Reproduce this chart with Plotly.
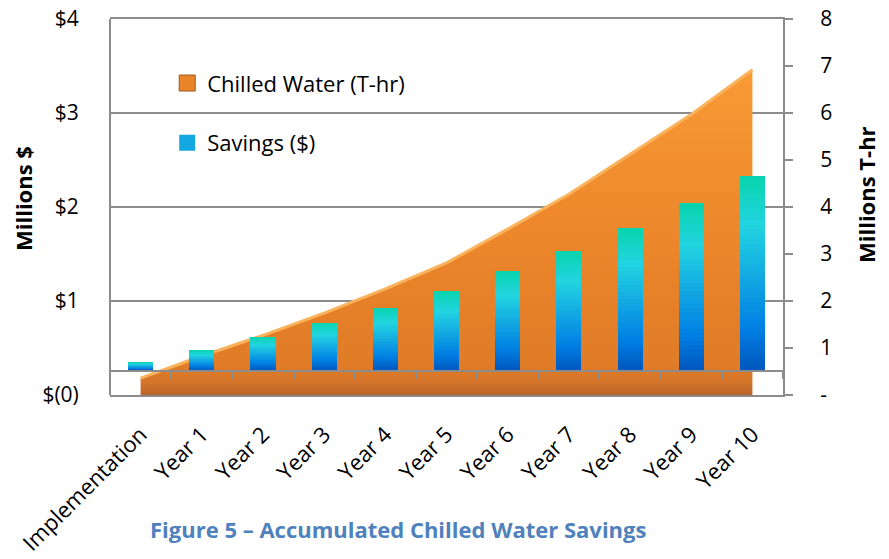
import plotly.graph_objects as go

# ---------------- data ----------------
categories = ["Implementation", "Year 1", "Year 2", "Year 3", "Year 4", "Year 5",
              "Year 6", "Year 7", "Year 8", "Year 9", "Year 10"]
savings_musd = [0.09, 0.22, 0.36, 0.51, 0.67, 0.85, 1.06, 1.27, 1.52, 1.78, 2.07]
chilled_water_mthr = [0.36, 0.83, 1.27, 1.74, 2.26, 2.81, 3.53, 4.27, 5.12, 5.97, 6.92]

left_tick_vals = [-0.26, 0.74, 1.74, 2.74, 3.74]
left_tick_text = ["$(0)", "$1", "$2", "$3", "$4"]
right_tick_vals = [0, 1, 2, 3, 4, 5, 6, 7, 8]
right_tick_text = ["-", "1", "2", "3", "4", "5", "6", "7", "8"]

# ---------------- style ----------------
FONT = "Open Sans"
GRID = "#8C8C8C"
OFF = 8                      # default page body margin
W, H = 889 - OFF, 559 - OFF
# plot area in window pixels: x 110..783, y 19..395
ML, MT = 110 - OFF, 19 - OFF
MR, MB = W - (783 - OFF), H - (395 - OFF)

bar_stops = [(0.0, (0, 86, 190)), (0.22, (0, 128, 228)), (0.5, (20, 172, 226)),
             (0.75, (34, 212, 224)), (1.0, (8, 212, 172))]


def grad(f):
    for (f0, c0), (f1, c1) in zip(bar_stops[:-1], bar_stops[1:]):
        if f0 <= f <= f1:
            t = (f - f0) / (f1 - f0)
            r, g, b = (round(a + (b_ - a) * t) for a, b_ in zip(c0, c1))
            return f"rgb({r},{g},{b})"
    return "rgb(%d,%d,%d)" % bar_stops[-1][1]


fig = go.Figure()

fig.add_trace(go.Scatter(
    x=categories, y=chilled_water_mthr, name="Chilled Water (T-hr)",
    mode="lines", fill="tozeroy",
    line=dict(color="#FAB25C", width=3),
    fillgradient=dict(type="vertical", start=0, stop=7,
                      colorscale=[[0, "#B8642A"], [0.035, "#D2742A"], [0.08, "#E07B27"],
                                  [0.5, "#EC872B"], [1, "#F99B36"]]),
    xaxis="x", yaxis="y", showlegend=False,
))
# legend proxy for the area series
fig.add_trace(go.Scatter(
    x=[None], y=[None], mode="markers", name="Chilled Water (T-hr)",
    marker=dict(symbol="square", size=16, color="#E8842A",
                line=dict(color="#9C5A22", width=1)),
    xaxis="x", yaxis="y", legendgroup="cw", legendrank=1,
))

N = 40
for k in range(N, 0, -1):
    f = k / N
    fig.add_trace(go.Bar(
        x=categories, y=[v * f for v in savings_musd],
        name="Savings ($)", width=0.41,
        marker=dict(color=grad(f - 0.5 / N), line=dict(width=0)),
        xaxis="x2", yaxis="y2", showlegend=False,
        hoverinfo="skip" if k < N else None,
    ))
# legend proxy for the bar series
fig.add_trace(go.Scatter(
    x=[None], y=[None], mode="markers", name="Savings ($)",
    marker=dict(symbol="square", size=16, color="#14A8E2"),
    xaxis="x2", yaxis="y2", legendgroup="sv", legendrank=2,
))

floor_pos = -left_tick_vals[0] / (left_tick_vals[-1] - left_tick_vals[0])

fig.update_layout(
    width=W, height=H,
    margin=dict(l=ML, r=MR, t=MT, b=MB, autoexpand=False),
    paper_bgcolor="white", plot_bgcolor="white",
    font=dict(family=FONT, size=22, color="black"),
    barmode="overlay", bargap=0,
    showlegend=True,
    legend=dict(x=0.085, y=0.885, xanchor="left", yanchor="top",
                bgcolor="rgba(0,0,0,0)", font=dict(size=22),
                tracegroupgap=28, traceorder="grouped"),
    xaxis=dict(type="category", range=[-0.5, len(categories) - 0.5],
               tickangle=-45, showline=True, mirror=True, linecolor=GRID, linewidth=2,
               ticks="", showgrid=False, ticklabelstandoff=16, automargin=False,
               tickfont=dict(size=22)),
    xaxis2=dict(type="category", overlaying="x", anchor="free", position=floor_pos,
                range=[-0.5, len(categories) - 0.5], showline=True, linecolor=GRID,
                linewidth=2, ticks="outside", tickson="boundaries", ticklen=7,
                tickcolor=GRID, tickwidth=2, showticklabels=False, showgrid=False,
                automargin=False),
    yaxis=dict(side="right", range=[right_tick_vals[0], right_tick_vals[-1]],
               tickvals=right_tick_vals, ticktext=right_tick_text,
               ticks="outside", ticklen=8, tickcolor=GRID, tickwidth=2,
               showline=True, linecolor=GRID, linewidth=2, showgrid=False,
               zeroline=False, ticklabelstandoff=23, tickfont=dict(size=21),
               ticklabeloverflow="allow", automargin=False),
    yaxis2=dict(side="left", overlaying="y", anchor="free", position=0,
                range=[left_tick_vals[0], left_tick_vals[-1]],
                tickvals=left_tick_vals, ticktext=left_tick_text,
                showgrid=True, gridcolor=GRID, gridwidth=2,
                showline=True, linecolor=GRID, linewidth=2, ticks="",
                zeroline=False, ticklabelstandoff=26, tickfont=dict(size=21),
                ticklabeloverflow="allow", automargin=False),
)

pw, ph = W - ML - MR, H - MT - MB


def px_x(x):
    return (x - OFF - ML) / pw


def px_y(y):
    return (H - MB - (y - OFF)) / ph


fig.add_annotation(text="<b>Millions $</b>", textangle=-90, showarrow=False,
                   xref="paper", yref="paper", x=px_x(23), y=px_y(198),
                   xanchor="center", yanchor="middle", font=dict(size=22))
fig.add_annotation(text="<b>Millions T-hr</b>", textangle=-90, showarrow=False,
                   xref="paper", yref="paper", x=px_x(866), y=px_y(195),
                   xanchor="center", yanchor="middle", font=dict(size=22))
fig.add_annotation(text="<b>Figure 5 – Accumulated Chilled Water Savings</b>",
                   showarrow=False, xref="paper", yref="paper",
                   x=px_x(398), y=px_y(529), xanchor="center", yanchor="middle",
                   font=dict(size=22, color="#4F81BD"))

fig.write_html("out.html")
